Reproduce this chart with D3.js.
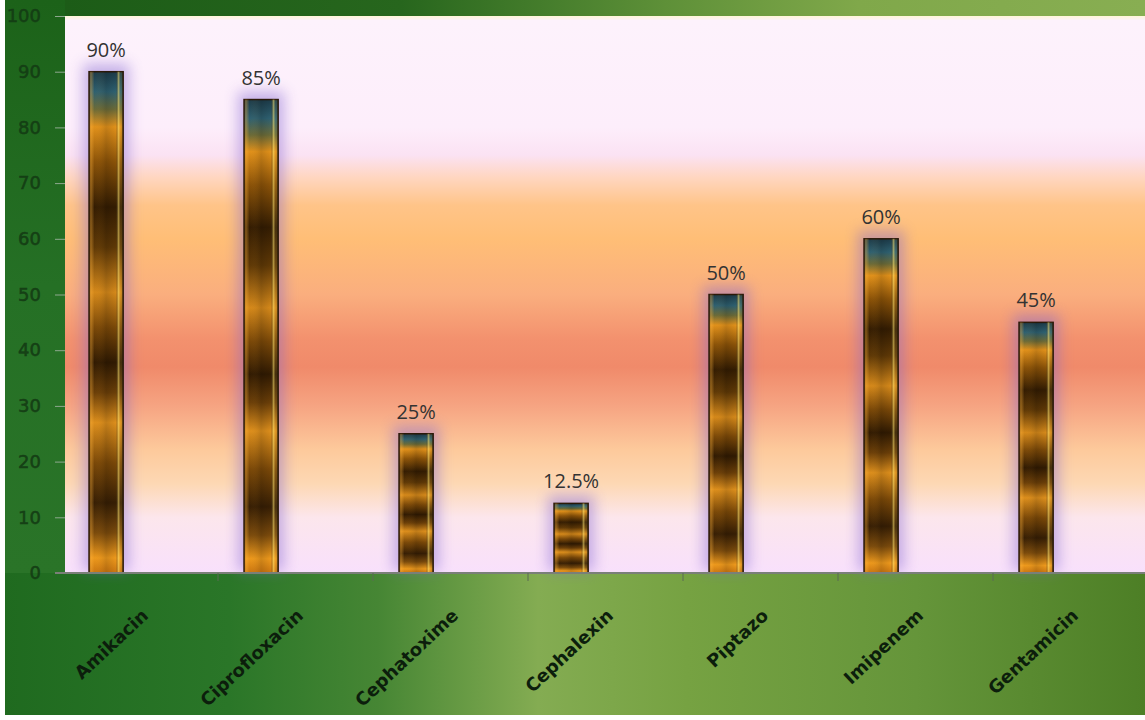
<!DOCTYPE html>
<html>
<head>
<meta charset="utf-8">
<script src="https://cdn.jsdelivr.net/npm/d3@7"></script>
<style>
html,body{margin:0;padding:0;background:#fff;}
svg{display:block;}
</style>
</head>
<body>
<svg id="chart" width="1145" height="720"></svg>
<script>
const categories = ["Amikacin","Ciprofloxacin","Cephatoxime","Cephalexin","Piptazo","Imipenem","Gentamicin"];
const values = [90, 85, 25, 12.5, 50, 60, 45];
const valueLabels = ["90%","85%","25%","12.5%","50%","60%","45%"];
const yTicks = [0,10,20,30,40,50,60,70,80,90,100];

const W = 1145, H = 720;
const plot = {left: 65, right: 1148, top: 16, bottom: 573};
const svg = d3.select("#chart");
const defs = svg.append("defs");

function lin(id, x2, y2, stops) {
  const g = defs.append("linearGradient").attr("id", id)
    .attr("x1", 0).attr("y1", 0).attr("x2", x2).attr("y2", y2);
  stops.forEach(s => g.append("stop").attr("offset", s[0]).attr("stop-color", s[1]).attr("stop-opacity", s[2] == null ? 1 : s[2]));
  return g;
}

// outer green backgrounds
lin("gBottom", 1, 0, [[0,"#1f6a1f"],[0.2,"#2a7628"],[0.33,"#468634"],[0.47,"#84ac52"],[0.6,"#76a242"],[0.8,"#65953a"],[1,"#4d7f26"]]);
lin("gTop", 1, 0, [[0,"#1a5a16"],[0.35,"#27661d"],[0.58,"#5e9038"],[0.75,"#80a84a"],[1,"#88ae52"]]);
lin("gLeft", 0, 1, [[0,"#1c6219"],[0.5,"#257025"],[1,"#2a7428"]]);
// plot area
lin("gPlot", 0, 1, [
  [0,"#fff6d8"],[0.008,"#fdf2fc"],[0.2,"#fdeefb"],[0.25,"#fbe2f3"],
  [0.29,"#ffd6c0"],[0.34,"#ffc488"],[0.4,"#ffbe76"],[0.5,"#faae7e"],
  [0.58,"#f3916e"],[0.63,"#f08a6a"],[0.7,"#f6a482"],[0.78,"#fdca9c"],
  [0.84,"#fdd8b4"],[0.9,"#fce6ec"],[1,"#f8e0fc"]
]);
// bar vertical texture
lin("gBar", 0, 1, [
  [0,"#1c3a48"],[0.04,"#2e6070"],[0.075,"#6a6a38"],[0.11,"#e0901a"],
  [0.18,"#8a5208"],[0.27,"#331c02"],[0.35,"#5e3806"],[0.44,"#d4881a"],
  [0.51,"#7a4808"],[0.58,"#301a02"],[0.64,"#6a3e08"],[0.70,"#dc8e1c"],
  [0.78,"#7a4808"],[0.86,"#361e04"],[0.92,"#7a4a0c"],[0.97,"#ec981c"],[1,"#c87410"]
]);
// bar horizontal bevel overlay
lin("gBevel", 1, 0, [
  [0,"#000000",0.25],[0.05,"#ffb440",0.4],[0.16,"#ffb440",0],
  [0.5,"#000000",0.12],[0.78,"#000000",0],[0.86,"#ffe672",0.55],
  [0.92,"#ffe672",0.1],[1,"#000000",0.3]
]);

const glow = defs.append("filter").attr("id","glow").attr("x","-60%").attr("y","-20%").attr("width","220%").attr("height","140%");
glow.append("feGaussianBlur").attr("stdDeviation", 7);

// backgrounds
svg.append("rect").attr("x",0).attr("y",0).attr("width",W).attr("height",H).attr("fill","url(#gBottom)");
svg.append("rect").attr("x",0).attr("y",0).attr("width",W).attr("height",plot.top).attr("fill","url(#gTop)");
svg.append("rect").attr("x",0).attr("y",0).attr("width",plot.left).attr("height",plot.bottom).attr("fill","url(#gLeft)");
svg.append("rect").attr("x",plot.left).attr("y",plot.top).attr("width",plot.right-plot.left).attr("height",plot.bottom-plot.top).attr("fill","url(#gPlot)");

// scales
const x = d3.scaleBand().domain(categories).range([plot.left - 2, plot.right]).padding(0);
const y = d3.scaleLinear().domain([0,100]).range([plot.bottom, plot.top]);
const bw = x.bandwidth();
const barOff = bw * 0.168, barW = bw * 0.22;

// glow behind bars
const gg = svg.append("g").attr("clip-path", null);
gg.selectAll("rect").data(categories).join("rect")
  .attr("x", (d,i) => x(d) + barOff - 6)
  .attr("y", (d,i) => y(values[i]) - 8)
  .attr("width", barW + 12)
  .attr("height", (d,i) => plot.bottom - y(values[i]) + 6)
  .attr("fill", "#8064d0").attr("opacity", 0.45)
  .attr("filter", "url(#glow)");

// bars
const bars = svg.append("g");
bars.selectAll("rect.bar").data(categories).join("rect").attr("class","bar")
  .attr("x", d => x(d) + barOff)
  .attr("y", (d,i) => y(values[i]))
  .attr("width", barW)
  .attr("height", (d,i) => y(0) - y(values[i]))
  .attr("fill", "url(#gBar)")
  .attr("stroke", "#2a1808").attr("stroke-width", 1.5);
bars.selectAll("rect.bev").data(categories).join("rect").attr("class","bev")
  .attr("x", d => x(d) + barOff)
  .attr("y", (d,i) => y(values[i]))
  .attr("width", barW)
  .attr("height", (d,i) => y(0) - y(values[i]))
  .attr("fill", "url(#gBevel)");

// value labels
svg.append("g").selectAll("text").data(categories).join("text")
  .attr("x", d => x(d) + barOff + barW/2)
  .attr("y", (d,i) => y(values[i]) - 15)
  .attr("text-anchor","middle")
  .attr("font-family","'Open Sans', sans-serif")
  .attr("font-size", 20)
  .attr("fill","#333333")
  .text((d,i) => valueLabels[i]);

// y axis
const yAxis = svg.append("g").attr("transform", `translate(${plot.left},0)`)
  .call(d3.axisLeft(y).tickValues(yTicks).tickSize(10).tickPadding(14));
yAxis.select(".domain").remove();
yAxis.selectAll(".tick line").attr("stroke","#8ea88e").attr("stroke-width",1);
yAxis.selectAll(".tick text")
  .attr("font-family","'DejaVu Sans', sans-serif")
  .attr("font-size", 18)
  .attr("fill","#143c14")
  .attr("stroke","#143c14").attr("stroke-width",0.5)
  .attr("fill-opacity",0.9);

// x axis
const xAxis = svg.append("g").attr("transform", `translate(0,${plot.bottom})`)
  .call(d3.axisBottom(x).tickSize(0).tickFormat(""));
xAxis.select(".domain").attr("stroke","#7a7f78").attr("stroke-width",2)
  .attr("d", `M${plot.left - 10},0H${plot.right}`);
xAxis.selectAll(".tick").remove();
xAxis.selectAll("line.bound").data(categories.slice(1)).join("line").attr("class","bound")
  .attr("x1", d => x(d)).attr("x2", d => x(d))
  .attr("y1", 0).attr("y2", 8)
  .attr("stroke","#5a6a55").attr("stroke-width",1);

// category labels
svg.append("g").selectAll("text").data(categories).join("text")
  .attr("transform", d => `translate(${x(d) + bw/2 + 9},${plot.bottom + 44}) rotate(-43)`)
  .attr("text-anchor","end")
  .attr("font-family","'DejaVu Sans', sans-serif")
  .attr("font-size", 18)
  .attr("font-weight","bold")
  .attr("fill","#0c1e0c")
  .text(d => d);

// white border strips
svg.append("rect").attr("x",0).attr("y",0).attr("width",5).attr("height",H).attr("fill","#ffffff");
svg.append("rect").attr("x",0).attr("y",715).attr("width",W).attr("height",5).attr("fill","#ffffff");
</script>
</body>
</html>
